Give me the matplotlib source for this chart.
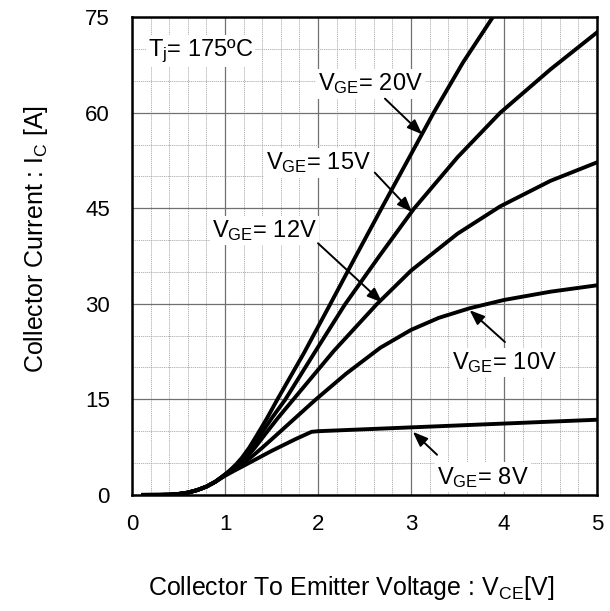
import matplotlib
matplotlib.use("Agg")
import matplotlib.pyplot as plt
from matplotlib.ticker import MultipleLocator

plt.rcParams["font.family"] = ["Liberation Sans", "DejaVu Sans"]
plt.rcParams["mathtext.fontset"] = "custom"
plt.rcParams["mathtext.rm"] = "Liberation Sans"
plt.rcParams["mathtext.it"] = "Liberation Sans"

# ----------------------------
# data (Vce [V], Ic [A])
# ----------------------------
vce_20 = [0.12, 0.3, 0.4, 0.5, 0.6, 0.7, 0.8, 0.9, 1.0, 1.06, 1.12, 1.18, 1.26, 1.34, 1.45, 1.56, 1.85,
          2.13, 2.4, 2.68, 2.96, 3.24, 3.56, 3.88]
ic_20 = [0.0, 0.01, 0.04, 0.15, 0.36, 0.75, 1.3, 2.1, 3.2, 3.95, 4.8, 5.8, 7.4, 9.3, 12.0, 14.9, 22.3,
         29.9, 37.3, 44.9, 52.4, 59.9, 67.9, 75.0]

vce_15 = [0.12, 0.3, 0.4, 0.5, 0.6, 0.7, 0.8, 0.9, 1.0, 1.06, 1.13, 1.2, 1.29, 1.38, 1.51, 1.645, 1.97,
          2.29, 2.66, 3.03, 3.5, 3.96, 4.5, 5.0]
ic_15 = [0.0, 0.01, 0.04, 0.15, 0.36, 0.75, 1.3, 2.1, 3.2, 3.9, 4.8, 5.8, 7.5, 9.4, 12.2, 14.9, 22.5,
         29.9, 37.5, 44.9, 53.0, 60.0, 66.8, 72.6]

vce_12 = [0.12, 0.3, 0.4, 0.5, 0.6, 0.7, 0.8, 0.9, 1.0, 1.07, 1.15, 1.23, 1.32, 1.42, 1.57, 1.73, 2.17,
          2.63, 3.0, 3.5, 3.96, 4.5, 5.0]
ic_12 = [0.0, 0.01, 0.04, 0.15, 0.36, 0.75, 1.3, 2.1, 3.15, 3.9, 4.8, 5.9, 7.4, 9.3, 12.1, 14.9, 22.6,
         29.9, 35.2, 41.0, 45.3, 49.3, 52.2]

vce_10 = [0.12, 0.3, 0.4, 0.5, 0.6, 0.7, 0.8, 0.9, 1.0, 1.09, 1.18, 1.27, 1.4, 1.53, 1.75, 1.97, 2.3,
          2.67, 3.0, 3.3, 3.63, 4.0, 4.5, 5.0]
ic_10 = [0.0, 0.01, 0.04, 0.15, 0.36, 0.75, 1.3, 2.1, 3.1, 3.9, 4.8, 5.8, 7.4, 9.1, 12.0, 14.9, 19.0,
         23.1, 25.9, 27.8, 29.3, 30.6, 31.9, 32.9]

vce_8 = [0.12, 0.3, 0.4, 0.5, 0.6, 0.7, 0.8, 0.9, 1.0, 1.1, 1.23, 1.5, 1.75, 1.93, 2.0, 3.0, 4.0, 5.0]
ic_8 = [0.0, 0.01, 0.04, 0.15, 0.36, 0.75, 1.3, 2.1, 3.0, 3.8, 4.8, 6.9, 8.7, 9.9, 10.0, 10.6, 11.2, 11.8]

curves = [
    (vce_20, ic_20),
    (vce_15, ic_15),
    (vce_12, ic_12),
    (vce_10, ic_10),
    (vce_8, ic_8),
]

# label text, text anchor (left, centre), arrow start -> arrow tip
labels = ["$\\mathregular{V_{GE}}$= 20V", "$\\mathregular{V_{GE}}$= 15V", "$\\mathregular{V_{GE}}$= 12V",
          "$\\mathregular{V_{GE}}$= 10V", "$\\mathregular{V_{GE}}$= 8V"]
label_xy = [(2.0, 64.5), (1.44, 52.1), (0.86, 41.5), (3.44, 20.8), (3.28, 2.8)]
arrow_from = [(2.72, 62.2), (2.61, 50.6), (2.0, 39.5), (4.01, 24.0), (3.28, 6.3)]
arrow_to = [(3.12, 56.6), (3.01, 44.4), (2.69, 30.2), (3.63, 29.0), (3.02, 9.9)]

x_ticks = [0, 1, 2, 3, 4, 5]
y_ticks = [0, 15, 30, 45, 60, 75]


def main() -> None:
    fig = plt.figure(figsize=(6.1, 6.11), dpi=100)
    ax = fig.add_axes([0.2164, 0.190, 0.7623, 0.782])

    ax.set_xlim(0, 5)
    ax.set_ylim(0, 75)
    ax.set_xticks(x_ticks)
    ax.set_yticks(y_ticks)
    ax.xaxis.set_minor_locator(MultipleLocator(0.2))
    ax.yaxis.set_minor_locator(MultipleLocator(5))

    # grid first, curves on top
    ax.grid(True, which="major", color="#707070", linewidth=0.9)
    ax.grid(True, which="minor", color="#a8a8a8", linewidth=0.6, linestyle=(0, (1.5, 1.0)))
    ax.set_axisbelow(True)

    for xs, ys in curves:
        ax.plot(xs, ys, color="black", linewidth=2.8, solid_joinstyle="round", zorder=3)

    box = dict(facecolor="white", edgecolor="none", pad=1.5)
    for text, (tx, ty), a0, a1 in zip(labels, label_xy, arrow_from, arrow_to):
        ax.text(tx, ty, text, fontsize=17, ha="left", va="center", bbox=box, zorder=4)
        ax.annotate("", xy=a1, xytext=a0,
                    arrowprops=dict(arrowstyle="-|>,head_length=0.9,head_width=0.35",
                                    color="black", lw=1.4, shrinkA=0, shrinkB=0),
                    zorder=5)

    ax.text(0.17, 69.7, "$\\mathregular{T_j}$= 175ºC", fontsize=17, ha="left", va="center",
            bbox=box, zorder=4)

    for s in ax.spines.values():
        s.set_linewidth(1.8)
    ax.tick_params(axis="x", which="major", length=0, labelsize=16, pad=14)
    ax.tick_params(axis="y", which="major", length=0, labelsize=16, pad=16)
    ax.tick_params(which="minor", length=0)

    ax.set_xlabel("Collector To Emitter Voltage : $\\mathregular{V_{CE}}$[V]", fontsize=18)
    ax.set_ylabel("Collector Current : $\\mathregular{I_C}$ [A]", fontsize=18)
    # label centres sit a little off the axes centre in the reference
    ax.xaxis.set_label_coords(0.471, -0.165)
    ax.yaxis.set_label_coords(-0.176, 0.535)

    fig.savefig("out.png", dpi=100)


if __name__ == "__main__":
    main()
